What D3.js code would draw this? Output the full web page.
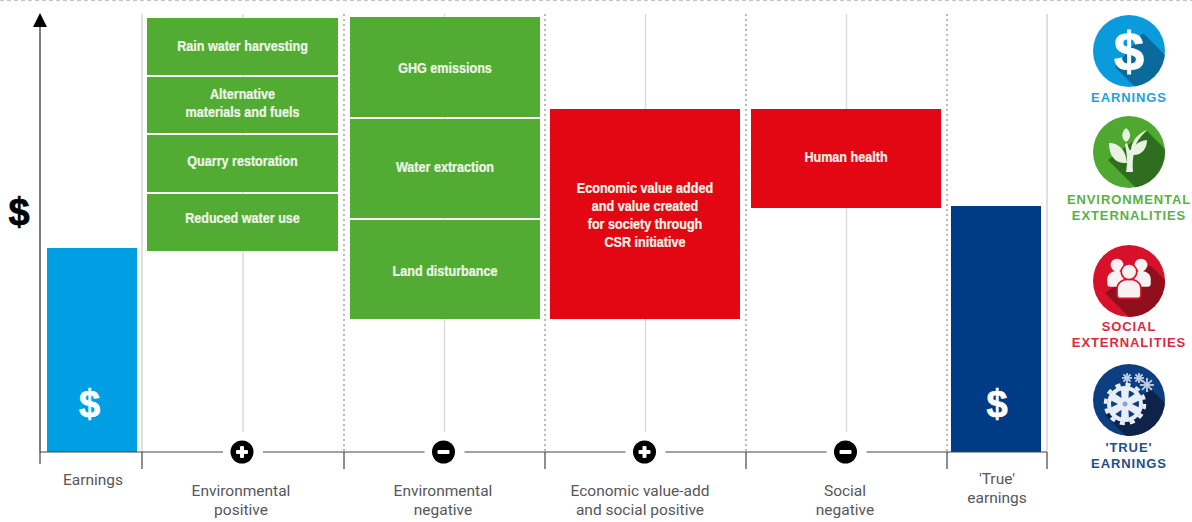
<!DOCTYPE html>
<html>
<head>
<meta charset="utf-8">
<script src="https://cdn.jsdelivr.net/npm/d3@7"></script>
<style>
html,body{margin:0;padding:0;background:#fff;}
svg{display:block;}
text{font-family:"Liberation Sans",sans-serif;}
</style>
</head>
<body>
<svg id="chart" width="1192" height="522"></svg>
<script>
// Category columns of the true-earnings waterfall
const columnKeys = ["earn","envPos","envNeg","ecoPos","socNeg","trueEarn"];
const columnWidths = [102,202,201,201,201,100];
const columnLabels = [["Earnings"],["Environmental","positive"],["Environmental","negative"],["Economic value-add","and social positive"],["Social","negative"],["'True'","earnings"]];
const columnSigns = [null,"+","−","+","−",null];

// Solid bars: value height in dollars (schematic units)
const earningsValue = 204;
const trueEarningsValue = 246;

// Floating blocks as [low, high] ranges
const envPosLabels = [["Rain water harvesting"],["Alternative","materials and fuels"],["Quarry restoration"],["Reduced water use"]];
const envPosRanges = [[377,434],[319,375],[260,317],[201,258]];
const envNegLabels = [["GHG emissions"],["Water extraction"],["Land disturbance"]];
const envNegRanges = [[335,435],[234,333],[133,232]];
const ecoPosLabels = [["Economic value added","and value created","for society through","CSR initiative"]];
const ecoPosRanges = [[133,343]];
const socNegLabels = [["Human health"]];
const socNegRanges = [[244,343]];

// Legend entries
const legendLabels = [["EARNINGS"],["ENVIRONMENTAL","EXTERNALITIES"],["SOCIAL","EXTERNALITIES"],["'TRUE'","EARNINGS"]];
const legendColors = ["#0a9bdc","#4fa82f","#d8112a","#0d3f80"];
const legendShadows = ["#0a6a9c","#2f6e1e","#8f0f1c","#0f2348"];
const legendTextColors = ["#26a0dc","#5cb044","#dc2a3c","#1d4f8e"];

const GREEN="#52ac33", RED="#e30613", BLUE="#009fe3", NAVY="#003b85";
const svg = d3.select("#chart");
const baseY = 452;
const y = d3.scaleLinear().domain([0,440]).range([baseY,12]);

// Column edges from cumulative widths
let edges=[40];
columnWidths.forEach(w=>edges.push(edges[edges.length-1]+w));
const x = k => edges[columnKeys.indexOf(k)];
const w = k => columnWidths[columnKeys.indexOf(k)];
const mid = k => x(k)+w(k)/2;

// Faint dotted strip along the top of the figure
svg.append("line").attr("x1",0).attr("x2",1192).attr("y1",0.5).attr("y2",0.5)
  .attr("stroke","#c4c4c4").attr("stroke-dasharray","4 3");

// Column dividers
edges.forEach((e,i)=>{
  if(i===0) return;
  const dotted = i>=2 && i<=5;
  svg.append("line").attr("x1",e).attr("x2",e).attr("y1",14).attr("y2",baseY)
    .attr("stroke",dotted?"#a8aaad":"#d9d9d9")
    .attr("stroke-width",1.6)
    .attr("stroke-dasharray",dotted?"2 3":null);
});
// Centre guides of the four middle columns
columnKeys.slice(1,5).forEach(k=>{
  svg.append("line").attr("x1",mid(k)).attr("x2",mid(k)).attr("y1",14).attr("y2",432)
    .attr("stroke","#d9d9d9").attr("stroke-width",1.4);
});

// Block groups; captions are squeezed horizontally for a condensed look
function blocks(key,ranges,labels,color,inset,bw,nudges){
  const bx=x(key)+inset, lineH=18;
  const g=svg.append("g");
  g.selectAll("rect").data(ranges).join("rect")
    .attr("x",bx).attr("width",bw)
    .attr("y",d=>y(d[1])).attr("height",d=>y(d[0])-y(d[1]))
    .attr("fill",color);
  ranges.forEach((r,i)=>{
    const cy=(y(r[0])+y(r[1]))/2, ls=labels[i];
    const t=g.append("text").attr("text-anchor","middle")
      .attr("transform",`translate(${bx+bw/2},0) scale(0.9,1)`)
      .attr("font-size",14).attr("font-weight","bold").attr("fill","#eef5e8")
      .attr("stroke","#eef5e8").attr("stroke-width",0.25);
    ls.forEach((s,j)=>t.append("tspan").attr("x",0)
      .attr("y",cy+(j-(ls.length-1)/2)*lineH+5+nudges[i]).text(s));
  });
}
blocks("envPos",envPosRanges,envPosLabels,GREEN,5,191,[0,-2,-2,-4]);
blocks("envNeg",envNegRanges,envNegLabels,GREEN,6,190,[1,-1,2]);
blocks("ecoPos",ecoPosRanges,ecoPosLabels,RED,5,190,[1]);
blocks("socNeg",socNegRanges,socNegLabels,RED,5,190,[-1]);

// Solid earnings bars
const solid=[{k:"earn",v:earningsValue,c:BLUE,l:47,r:137,s:89.5},{k:"trueEarn",v:trueEarningsValue,c:NAVY,l:951,r:1041,s:997}];
svg.selectAll("rect.solid").data(solid).join("rect").attr("class","solid")
  .attr("x",d=>d.l).attr("width",d=>d.r-d.l)
  .attr("y",d=>y(d.v)).attr("height",d=>baseY-y(d.v)).attr("fill",d=>d.c);
svg.selectAll("text.barsign").data(solid).join("text").attr("class","barsign")
  .attr("x",d=>d.s).attr("y",417).attr("text-anchor","middle")
  .attr("font-size",38).attr("font-weight","bold").attr("fill","#fff")
  .attr("stroke","#fff").attr("stroke-width",0.7).text("$");

// Baseline with a gap round each sign badge
const axisColor="#444";
let prev=40;
const axis=svg.append("g").attr("stroke",axisColor).attr("stroke-width",1.2);
columnKeys.forEach((k,i)=>{
  if(columnSigns[i]){
    axis.append("line").attr("x1",prev).attr("x2",mid(k)-20).attr("y1",baseY).attr("y2",baseY);
    prev=mid(k)+20;
  }
});
axis.append("line").attr("x1",prev).attr("x2",1047).attr("y1",baseY).attr("y2",baseY);
edges.forEach((e,i)=>{
  axis.append("line").attr("x1",e).attr("x2",e).attr("y1",baseY)
    .attr("y2",i===0?464:469);
});

// Vertical dollar axis with arrow head
svg.append("line").attr("x1",40).attr("x2",40).attr("y1",26).attr("y2",baseY)
  .attr("stroke",axisColor).attr("stroke-width",1.4);
svg.append("path").attr("d","M33,27L47,27L40,13Z").attr("fill","#000");
svg.append("text").attr("x",19).attr("y",225).attr("text-anchor","middle")
  .attr("font-size",38).attr("font-weight","bold").attr("fill","#000")
  .attr("stroke","#000").attr("stroke-width",0.7).text("$");

// Sign badges
columnKeys.forEach((k,i)=>{
  if(!columnSigns[i]) return;
  const g=svg.append("g").attr("transform",`translate(${mid(k)-1},${baseY})`);
  g.append("circle").attr("r",11.5).attr("fill","#000");
  g.append("rect").attr("x",-6).attr("y",-2).attr("width",12).attr("height",4).attr("rx",1).attr("fill","#fff");
  if(columnSigns[i]==="+") g.append("rect").attr("x",-2).attr("y",-6).attr("width",4).attr("height",12).attr("rx",1).attr("fill","#fff");
});

// Column captions
const captionCentres=[93,241,443,640,845,997];
columnKeys.forEach((k,i)=>{
  const t=svg.append("text").attr("text-anchor","middle").attr("font-size",15.5).attr("fill","#56565c")
    .style("font-family","'Roboto',sans-serif").style("font-weight",400);
  columnLabels[i].forEach((s,j)=>t.append("tspan").attr("x",captionCentres[i])
    .attr("y",(i===5?484:(i===0?485:496))+j*18.5).text(s));
});

// Legend badges on the right
const legendY=[51,152,281,400], R=36, cxL=1129;
const shadowEdges=[[14,32,-14,30],[18,39,-21,29],[21,37,-24,36],[23,33,-24,39]];
const defs=svg.append("defs");
legendY.forEach((cy,i)=>{
  const id="clip"+i, [ux,uc,lx,le]=shadowEdges[i];
  defs.append("clipPath").attr("id",id).append("circle").attr("cx",cxL).attr("cy",cy).attr("r",R);
  const g=svg.append("g");
  g.append("circle").attr("cx",cxL).attr("cy",cy).attr("r",R).attr("fill",legendColors[i]);
  g.append("path").attr("clip-path",`url(#${id})`)
    .attr("fill",legendShadows[i])
    .attr("d",`M${cxL+ux},${cy+ux-uc}L${cxL+90},${cy+90-uc}L${cxL+60},${cy+60+le}L${cxL+lx},${cy+lx+le}Z`);
  const ic=g.append("g").attr("transform",`translate(${cxL},${cy})`);
  if(i===0){
    ic.append("text").attr("text-anchor","middle").attr("y",19).attr("font-size",54)
      .attr("font-weight","bold").attr("fill","#fff").attr("stroke","#fff").attr("stroke-width",1).text("$");
  } else if(i===1){
    const leaf="#e9f3e2";
    ic.append("path").attr("fill",leaf).attr("d","M-3,20 C-1,10 -2,2 -4,-8 L-2,-9 C0,-3 1,0 2,-3 C3,-12 10,-19 18,-22 C12,-16 7,-10 6,-4 C5,3 3,6 4,20 Z");
    ic.append("path").attr("fill",leaf).attr("d","M-3,-10 C-8,-13 -8,-20 -3,-24 C2,-20 3,-14 -3,-10Z");
    ic.append("path").attr("fill",leaf).attr("d","M-2,11 C-12,12 -20,6 -20,-9 C-10,-9 -3,-2 -2,11Z");
    ic.append("path").attr("fill",leaf).attr("d","M3,3 C3,-6 9,-11 18,-12 C18,-3 12,4 3,3Z");
  } else if(i===2){
    const person=(px,py,s,stroke)=>{
      const p=ic.append("g").attr("transform",`translate(${px},${py}) scale(${s})`)
        .attr("fill","#f8f2f2").attr("stroke",stroke).attr("stroke-width",1.8);
      p.append("path").attr("d","M-13,13 Q-13,17 -9,17 L9,17 Q13,17 13,13 L13,7 C13,-1 6,-4 0,-4 C-6,-4 -13,-1 -13,7 Z");
      p.append("circle").attr("cy",-12).attr("r",8.5);
    };
    person(-12,-7,0.75,"none"); person(12,-7,0.75,"none"); person(0,1.8,0.92,legendColors[2]);
  } else {
    const pale="#e8eef6", gear=ic.append("g").attr("transform","translate(-4,4)");
    gear.append("circle").attr("r",18).attr("fill",pale);
    gear.append("circle").attr("r",19.5).attr("fill","none").attr("stroke",pale).attr("stroke-width",3.5).attr("stroke-dasharray","5.1 5.1");
    const hole=d3.arc().innerRadius(7).outerRadius(14).padAngle(0.5);
    d3.range(6).forEach(j=>gear.append("path").attr("fill",legendColors[3])
      .attr("d",hole({startAngle:j*Math.PI/3,endAngle:(j+1)*Math.PI/3})));
    gear.append("circle").attr("r",2.5).attr("fill","#8aa3c6");
    [[-2,-22,5],[10,-22,5],[18,-15,7]].forEach(([a,b,r])=>{
      d3.range(4).forEach(j=>{
        const t=j*Math.PI/4;
        ic.append("line").attr("x1",a-r*Math.cos(t)).attr("y1",b-r*Math.sin(t))
          .attr("x2",a+r*Math.cos(t)).attr("y2",b+r*Math.sin(t))
          .attr("stroke","#c3d0e2").attr("stroke-width",1.8);
      });
    });
  }
  // Legend captions
  const ty=[102,204,331,452][i];
  const t=svg.append("text").attr("text-anchor","middle").attr("font-size",13).attr("font-weight","bold")
    .attr("letter-spacing",0.9).attr("fill",legendTextColors[i]);
  legendLabels[i].forEach((s,j)=>t.append("tspan").attr("x",cxL).attr("y",ty+j*16).text(s));
});
</script>
</body>
</html>
